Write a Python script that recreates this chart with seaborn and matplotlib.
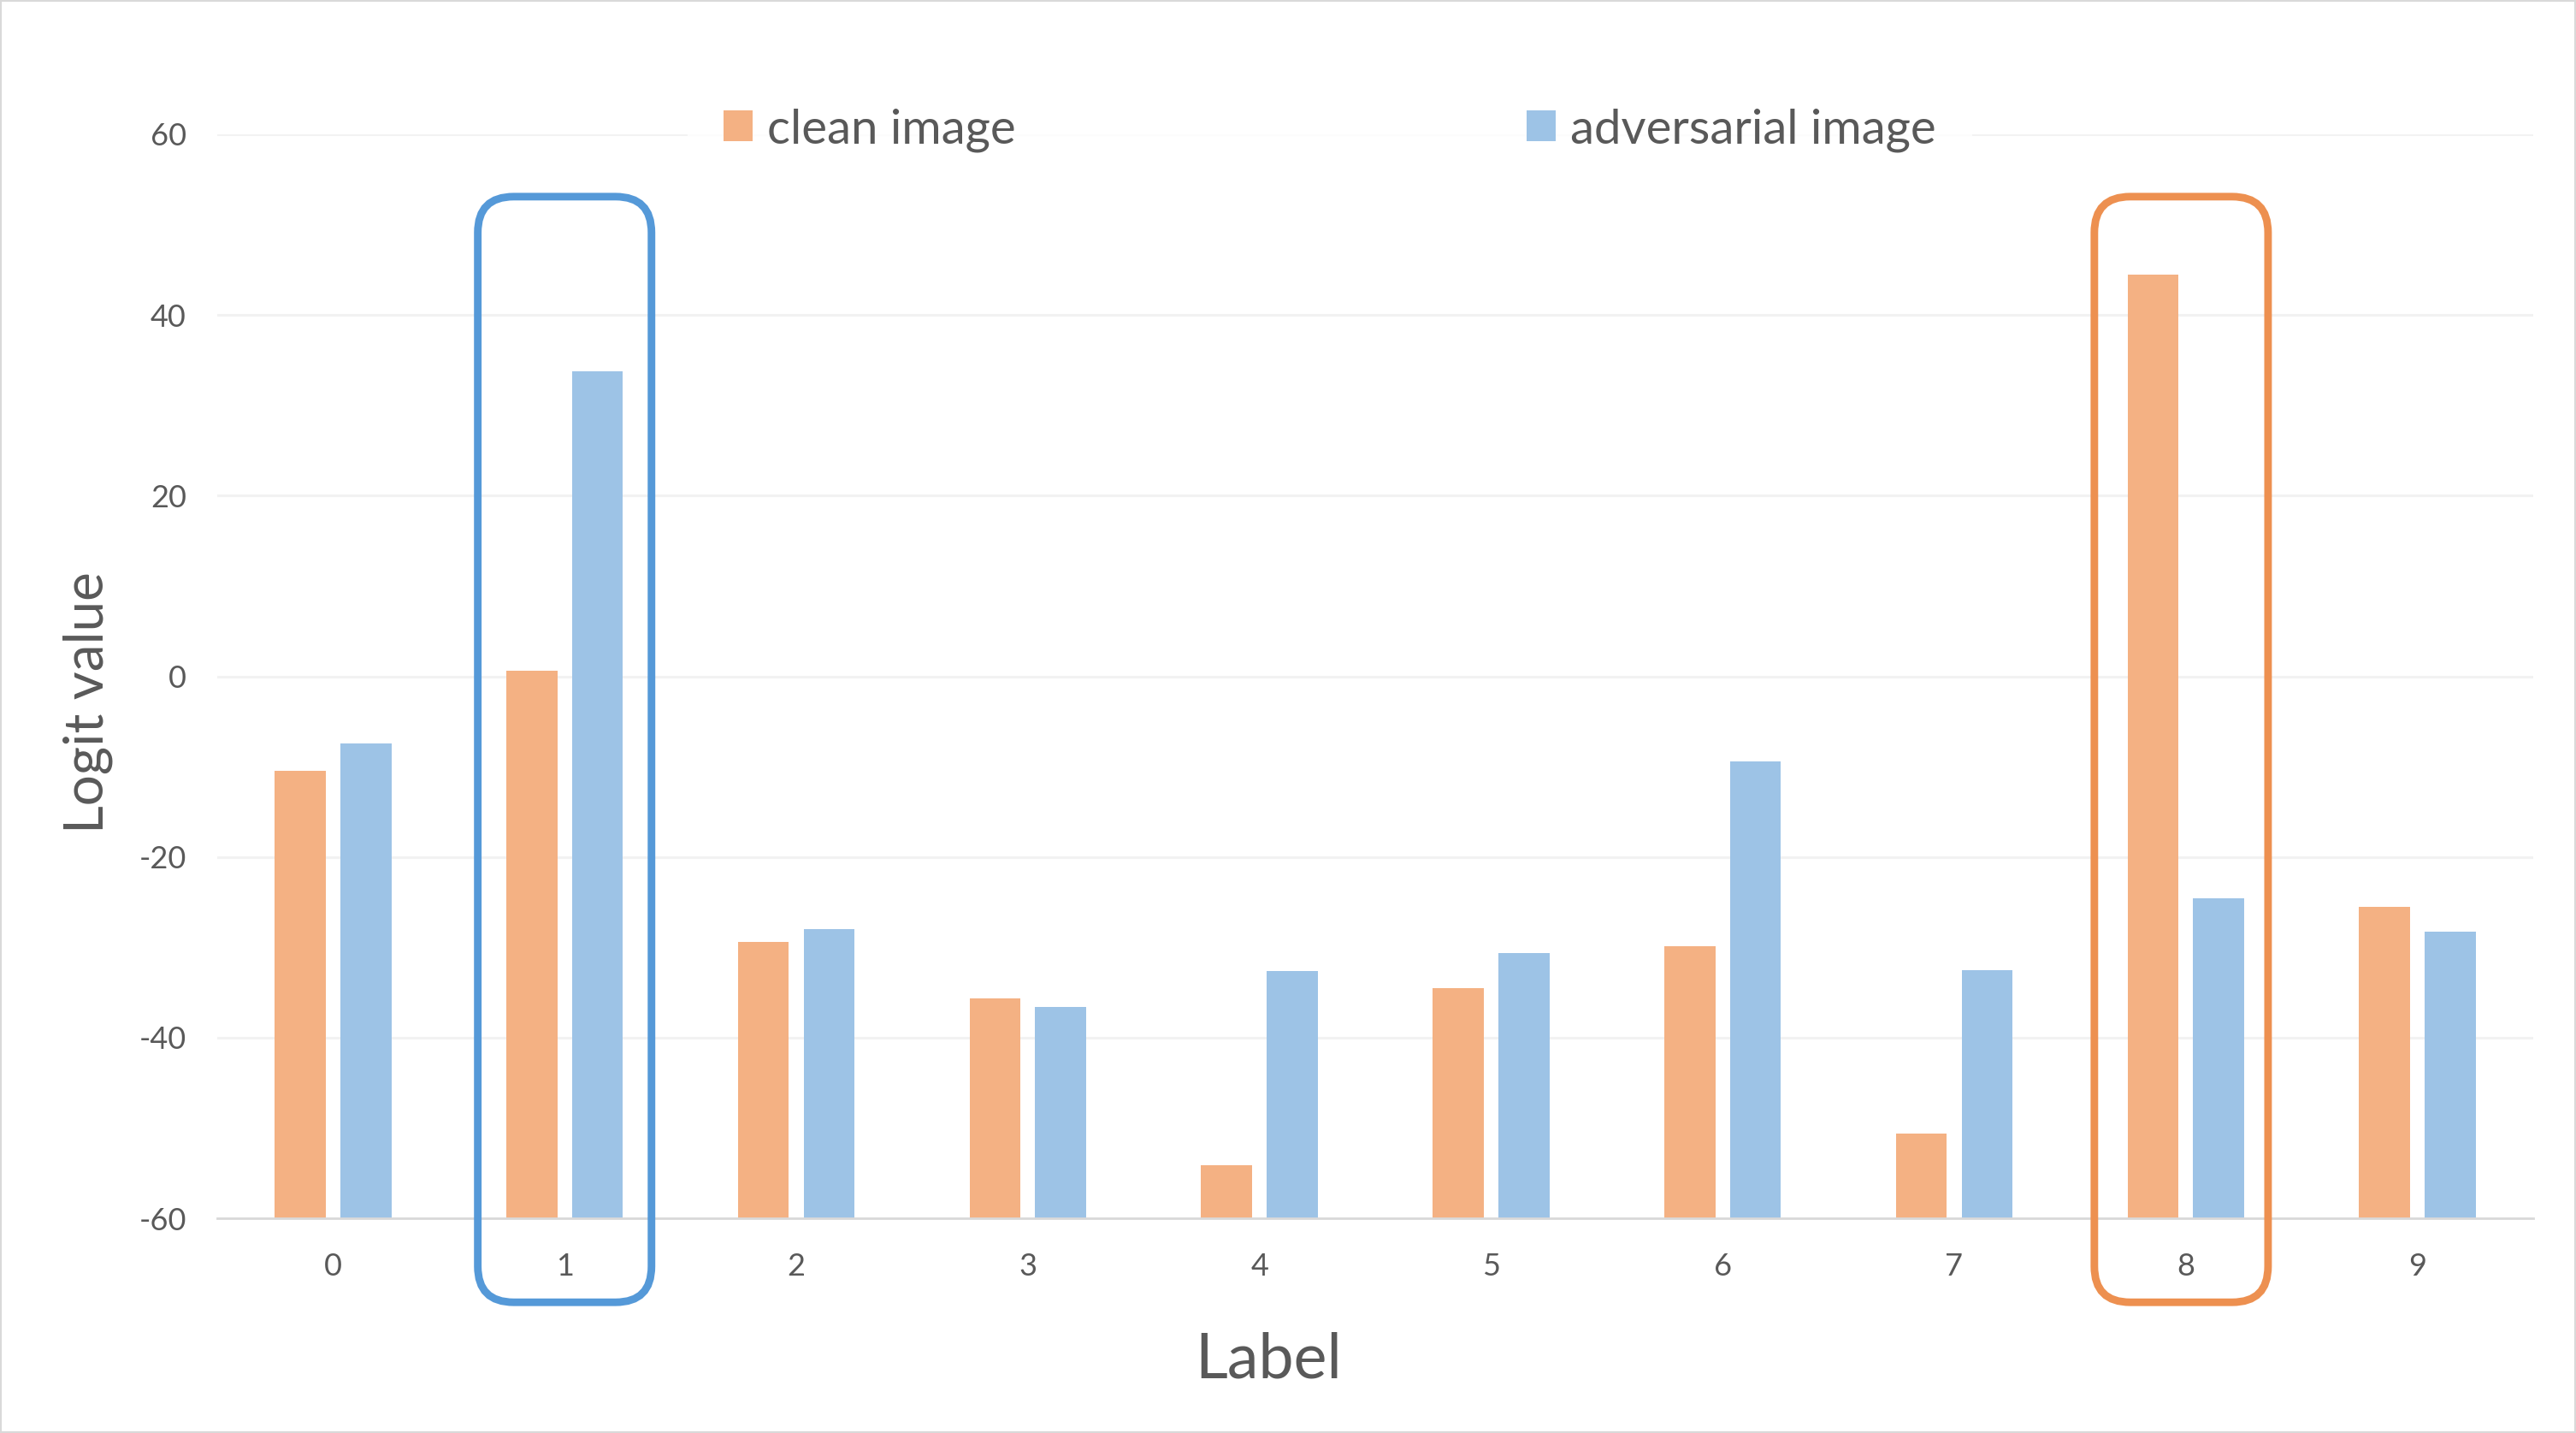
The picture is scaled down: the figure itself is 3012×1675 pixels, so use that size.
import pandas as pd
import matplotlib.pyplot as plt
import seaborn as sns
from matplotlib.patches import FancyBboxPatch, Rectangle
from matplotlib.transforms import IdentityTransform

labels = ['0', '1', '2', '3', '4', '5', '6', '7', '8', '9']
clean_values = [-10.5, 0.6, -29.4, -35.7, -54.1, -34.5, -29.9, -50.6, 44.5, -25.5]
adversarial_values = [-7.4, 33.8, -28.0, -36.6, -32.6, -30.6, -9.4, -32.5, -24.6, -28.3]
series_names = ['clean image', 'adversarial image']
y_ticks = [-60, -40, -20, 0, 20, 40, 60]

CLEAN_COLOR = '#F4B183'
ADV_COLOR = '#9DC3E6'
TEXT_COLOR = '#595959'
Y_MIN = -60

df = pd.DataFrame({
    'Label': labels * 2,
    'value': clean_values + adversarial_values,
    'series': [series_names[0]] * len(labels) + [series_names[1]] * len(labels),
})

sns.set_theme(style='white')
plt.rcParams['font.family'] = ['Lato', 'DejaVu Sans']
plt.rcParams['axes.unicode_minus'] = False

DPI = 200
fig = plt.figure(figsize=(3012 / DPI, 1675 / DPI), dpi=DPI)
ax = fig.add_axes([254 / 3012, 1 - 1424 / 1675, 2708 / 3012, 1267 / 1675])

sns.barplot(data=df, x='Label', y='value', hue='series', order=labels,
            hue_order=series_names, palette=[CLEAN_COLOR, ADV_COLOR],
            width=0.567, gap=0.224, linewidth=0, saturation=1, ax=ax)

# excel style: bars grow up from the axis floor (-60), not from zero
for bar in ax.patches:
    top = bar.get_y() + bar.get_height()
    bar.set_y(Y_MIN)
    bar.set_height(top - Y_MIN)

ax.set_ylim(Y_MIN, 60)
ax.set_yticks(y_ticks)
ax.set_yticklabels([str(t) for t in y_ticks])
ax.set_axisbelow(True)
ax.yaxis.grid(True, color='#F2F2F2', linewidth=1.1)
ax.xaxis.grid(False)
for side in ['top', 'right', 'left']:
    ax.spines[side].set_visible(False)
ax.spines['bottom'].set_color('#D9D9D9')
ax.spines['bottom'].set_linewidth(1.0)
ax.tick_params(axis='y', length=0, pad=13, labelsize=13, labelcolor=TEXT_COLOR)
ax.tick_params(axis='x', length=0, pad=14.5, labelsize=13, labelcolor=TEXT_COLOR)

ax.set_xlabel('Label', fontsize=26.5, color=TEXT_COLOR, va='center')
ax.set_ylabel('Logit value', fontsize=23, color=TEXT_COLOR, va='center')
ax.xaxis.set_label_coords(0.4538, -0.131)
ax.yaxis.set_label_coords(-0.0558, 0.476)

# legend across the top, white frame hides the 60 gridline behind it
handles, names = ax.get_legend_handles_labels()
ax.get_legend().remove()
leg = fig.legend(handles, names, loc='center left',
                 bbox_to_anchor=(804 / 3012, 1 - 152 / 1675), ncol=2,
                 fontsize=20.3, frameon=True, borderaxespad=0, borderpad=0.75,
                 handlelength=0.6, handleheight=0.6, handletextpad=0.3,
                 columnspacing=10.6, labelcolor=TEXT_COLOR)
leg.get_frame().set_facecolor('white')
leg.get_frame().set_edgecolor('white')
leg.get_frame().set_linewidth(0)

# rounded boxes around the winning label of each series
def mark_label(idx, color):
    x0, y0 = ax.transData.transform((idx - 0.375, -69.3))
    x1, y1 = ax.transData.transform((idx + 0.375, 53.1))
    box = FancyBboxPatch((x0, y0), x1 - x0, y1 - y0,
                         boxstyle='round,pad=0,rounding_size=42',
                         transform=IdentityTransform(), fill=False,
                         edgecolor=color, linewidth=3.2, clip_on=False,
                         zorder=5)
    fig.patches.append(box)

mark_label(adversarial_values.index(max(adversarial_values)), '#5599D8')
mark_label(clean_values.index(max(clean_values)) - 0.02, '#ED9050')

fig.patches.append(Rectangle((0, 0), 1, 1, transform=fig.transFigure,
                             fill=False, edgecolor='#D9D9D9', linewidth=1.5))

fig.savefig('out.png', dpi=DPI, facecolor='white')
